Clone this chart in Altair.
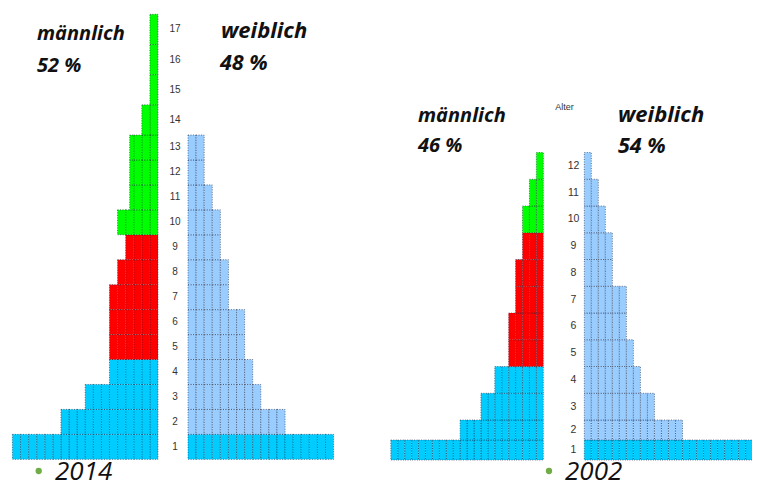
import altair as alt
import pandas as pd

# ---------------- data (in grid cells) ----------------
ages_m14 = list(range(1, 18))
male_2014 = [18, 12, 9, 6, 6, 6, 6, 5, 4, 5, 3.5, 3.5, 3.5, 2, 1, 1, 1]
group_m14 = ["blau"] * 4 + ["rot"] * 5 + ["grün"] * 8

ages_f14 = list(range(1, 14))
female_2014 = [18, 12, 9, 8, 7, 7, 5, 5, 4, 4, 3, 2, 2]
group_f14 = ["blau"] + ["hellblau"] * 12

ages_m02 = list(range(1, 13))
male_2002 = [22, 12, 9, 7, 5, 5, 4, 4, 3, 3, 2, 1]
group_m02 = ["blau"] * 4 + ["rot"] * 5 + ["grün"] * 3

ages_f02 = list(range(1, 13))
female_2002 = [25, 14, 10, 8, 7, 6, 6, 4, 4, 3, 2, 1]
group_f02 = ["blau"] + ["hellblau"] * 11

age_labels_2014 = list(range(1, 18))
age_labels_2002 = list(range(1, 13))

groups = ["blau", "hellblau", "rot", "grün"]
group_colors = ["#00CCFF", "#99CCFF", "#FF0000", "#00FF00"]


def cells(ages, values, grp):
    rows = []
    for a, v, g in zip(ages, values, grp):
        k = 0
        while k < v:
            rows.append({"age": a, "x0": k, "x1": min(k + 1, v), "gruppe": g})
            k += 1
    return pd.DataFrame(rows)


color_scale = alt.Scale(domain=groups, range=group_colors)

Y14 = dict(domain=[0.5, 13.5, 17.5], range=[451.3, 127, 6.3])
Y02 = dict(domain=[0.5, 2.5, 12.5], range=[452, 412, 144.5])


def bars(df, xdom, xrng, ysc):
    return (
        alt.Chart(df)
        .transform_calculate(lo="datum.age - 0.5", hi="datum.age + 0.5")
        .mark_rect(stroke="#1c2740", strokeDash=[1, 1.5], strokeWidth=0.8, strokeOpacity=0.75)
        .encode(
            x=alt.X("x0:Q", scale=alt.Scale(domain=xdom, range=xrng, zero=False, nice=False), axis=None),
            x2="x1:Q",
            y=alt.Y("lo:Q", scale=alt.Scale(domain=ysc["domain"], range=ysc["range"], zero=False, nice=False), axis=None),
            y2="hi:Q",
            color=alt.Color("gruppe:N", scale=color_scale, legend=None),
        )
    )


def age_axis(ages, ysc, xpos, size):
    return (
        alt.Chart(pd.DataFrame({"age": ages}))
        .mark_text(fontSize=size, font="Liberation Sans", color="#333333", align="center", baseline="middle")
        .encode(
            y=alt.Y("age:Q", scale=alt.Scale(domain=ysc["domain"], range=ysc["range"], zero=False, nice=False), axis=None),
            x=alt.value(xpos),
            text="age:N",
        )
    )


def label(text, x, y, size, weight="bold", style="italic", font="Open Sans", baseline="alphabetic", align="left", color="#111111"):
    return (
        alt.Chart(pd.DataFrame({"t": [text]}))
        .mark_text(fontSize=size, fontWeight=weight, fontStyle=style, font=font, baseline=baseline, align=align, color=color)
        .encode(text="t:N", x=alt.value(x), y=alt.value(y))
    )


def bullet(x, y):
    return (
        alt.Chart(pd.DataFrame({"t": ["•"]}))
        .mark_point(filled=True, shape="circle", size=40, color="#70AD47", opacity=1)
        .encode(x=alt.value(x), y=alt.value(y))
    )


layers = [
    bars(cells(ages_m14, male_2014, group_m14), [0, 18], [150, 4.4], Y14),
    bars(cells(ages_f14, female_2014, group_f14), [0, 18], [180, 325.6], Y14),
    bars(cells(ages_m02, male_2002, group_m02), [0, 22], [535.3, 382.8], Y02),
    bars(cells(ages_f02, female_2002, group_f02), [0, 14], [576.3, 674.5], Y02),
    age_axis(age_labels_2014, Y14, 167, 10),
    age_axis(age_labels_2002, Y02, 565.5, 10.5),
    label("männlich", 29, 32, 20),
    label("52 %", 29, 64, 20),
    label("weiblich", 213, 30, 22),
    label("48 %", 212, 62, 21.5),
    label("männlich", 410, 114, 20),
    label("46 %", 410, 144, 20),
    label("weiblich", 610, 114, 22),
    label("54 %", 610, 145, 21.5),
    label("Alter", 556.5, 99, 9, weight="normal", style="normal", font="Liberation Sans", baseline="middle", align="center", color="#333333"),
    bullet(30.7, 463),
    bullet(541, 463),
    label("2014", 47, 471.5, 26, weight="normal"),
    label("2002", 557, 471.5, 26, weight="normal"),
]

chart = (
    alt.layer(*layers)
    .resolve_scale(x="independent", y="independent")
    .properties(width=744, height=472, padding=0, autosize=alt.AutoSizeParams(type="none"), background="white")
    .configure_view(stroke=None)
)

chart.save("out.html", embed_options={"renderer": "svg", "actions": False})
